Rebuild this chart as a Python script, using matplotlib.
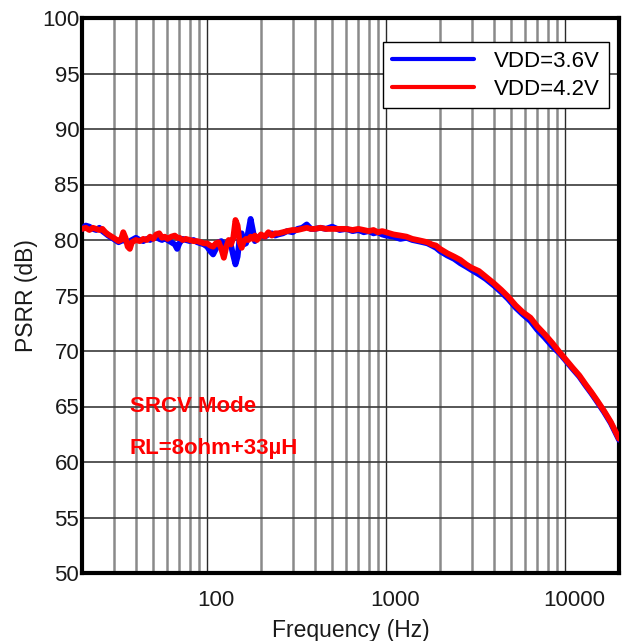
import matplotlib
matplotlib.use("Agg")
import matplotlib.pyplot as plt
from matplotlib.ticker import NullFormatter, LogLocator
import matplotlib.transforms as mtransforms

plt.rcParams['font.family'] = ['Liberation Sans', 'DejaVu Sans']

freq = [20, 21, 22, 23, 24, 25, 26, 27, 28, 30, 32, 33, 34, 35, 36, 37, 38, 40, 42, 44,
        46, 48, 50, 52, 54, 56, 58, 60, 63, 66, 68, 70, 73, 76, 80, 84, 88, 92, 96, 100,
        104, 108, 112, 116, 120, 124, 128, 132, 136, 140, 144, 148, 152, 156, 160, 165, 170, 175, 180, 185,
        190, 200, 210, 220, 230, 240, 250, 265, 280, 300, 320, 340, 360, 380, 400, 430, 460, 500, 550, 600,
        650, 700, 750, 800, 850, 900, 950, 1000, 1100, 1200, 1300, 1400, 1500, 1600, 1700, 1800, 1900, 2000, 2200, 2400,
        2600, 2800, 3000, 3300, 3600, 4000, 4400, 4800, 5300, 5800, 6400, 7000, 7700, 8500, 9300, 10000, 11000, 12000, 13000, 14000,
        15000, 16500, 18000, 20000]

psrr_36 = [81.0, 81.3, 81.2, 81.0, 80.9, 81.1, 80.8, 80.6, 80.4, 80.1, 79.8, 79.9, 80.0, 79.9, 79.8, 79.9, 80.0, 80.2, 80.0, 79.9,
           80.1, 80.0, 80.2, 80.3, 80.1, 80.0, 80.2, 80.0, 79.8, 79.6, 79.2, 79.7, 80.1, 80.0, 79.9, 80.0, 79.8, 79.7, 79.6, 79.4,
           79.0, 78.7, 79.2, 79.8, 79.9, 79.5, 79.7, 79.9, 79.5, 78.6, 77.8, 78.5, 80.2, 80.6, 79.6, 79.7, 80.8, 81.9, 80.9, 79.9,
           80.2, 80.4, 80.3, 80.5, 80.6, 80.4, 80.5, 80.6, 80.8, 80.7, 81.0, 81.1, 81.4, 81.0, 81.0, 81.1, 81.0, 81.2, 80.9, 81.0,
           80.8, 80.9, 80.7, 80.8, 80.6, 80.7, 80.5, 80.4, 80.3, 80.1, 80.2, 80.0, 79.9, 79.8, 79.7, 79.5, 79.3, 79.0, 78.6, 78.3,
           77.9, 77.6, 77.3, 76.9, 76.5, 75.9, 75.3, 74.7, 73.9, 73.3, 72.7, 71.9, 71.2, 70.4, 69.8, 69.2, 68.4, 67.7, 66.9, 66.2,
           65.5, 64.5, 63.5, 62.0]

psrr_42 = [81.0, 81.1, 80.9, 81.1, 81.0, 80.9, 81.0, 80.7, 80.5, 80.2, 79.9, 80.0, 80.7, 80.2, 79.4, 79.2, 79.8, 80.0, 79.9, 80.1,
           80.0, 80.3, 80.1, 80.5, 80.6, 80.2, 80.3, 80.1, 80.3, 80.4, 80.2, 80.2, 80.0, 80.1, 80.0, 79.9, 79.9, 79.8, 79.7, 79.7,
           79.5, 79.4, 79.7, 79.8, 79.2, 78.4, 79.4, 80.0, 79.6, 80.2, 81.8, 81.3, 79.8, 79.3, 79.9, 80.1, 80.0, 80.3, 80.1, 80.4,
           80.0, 80.5, 80.3, 80.7, 80.4, 80.6, 80.6, 80.7, 80.8, 80.9, 80.9, 81.0, 81.1, 81.0, 81.0, 81.1, 81.0, 81.0, 81.0, 81.0,
           80.9, 81.0, 80.9, 80.8, 80.9, 80.7, 80.8, 80.7, 80.5, 80.4, 80.3, 80.1, 80.0, 79.9, 79.8, 79.6, 79.5, 79.2, 78.8, 78.5,
           78.2, 77.8, 77.5, 77.2, 76.7, 76.1, 75.5, 74.9, 74.1, 73.5, 73.0, 72.2, 71.5, 70.7, 69.9, 69.3, 68.5, 67.8, 67.0, 66.3,
           65.6, 64.6, 63.6, 62.1]

series_labels = ['VDD=3.6V', 'VDD=4.2V']
y_ticks = [50, 55, 60, 65, 70, 75, 80, 85, 90, 95, 100]
x_major = [100, 1000, 10000]
x_major_labels = ['100', '1000', '10000']

fig = plt.figure(figsize=(6.24, 6.41), dpi=100)
ax = fig.add_axes([82/624, 1 - 573/641, (619-82)/624, (573-18)/641])

ax.plot(freq, psrr_36, color='#0000ff', lw=4.2, label=series_labels[0], solid_capstyle='round', zorder=3)
ax.plot(freq, psrr_42, color='#ff0000', lw=4.2, label=series_labels[1], solid_capstyle='round', zorder=4)

ax.set_xscale('log')
ax.set_xlim(20, 20000)
ax.set_ylim(50, 100)
ax.set_yticks(y_ticks)
ax.set_xticks(x_major)
ax.set_xticklabels(x_major_labels)
ax.xaxis.set_minor_locator(LogLocator(base=10, subs=range(2, 10), numticks=20))
ax.xaxis.set_minor_formatter(NullFormatter())

ax.grid(True, which='major', axis='y', color='#3a3a3a', lw=1.2)
ax.grid(True, which='major', axis='x', color='#2a2a2a', lw=1.0)
ax.grid(True, which='minor', axis='x', color='#8a8a8a', lw=1.8)
ax.set_axisbelow(True)

ax.tick_params(axis='both', which='both', length=0, labelsize=16, colors='#1a1a1a')
ax.tick_params(axis='y', pad=2)
ax.tick_params(axis='x', pad=12)
offset = mtransforms.ScaledTranslation(9/100, 0, fig.dpi_scale_trans)
for lab in ax.get_xticklabels():
    lab.set_transform(lab.get_transform() + offset)

for s in ax.spines.values():
    s.set_linewidth(3)
    s.set_color('black')

ax.set_xlabel('Frequency (Hz)', fontsize=16.5, color='#1a1a1a', labelpad=6)
ax.set_ylabel('PSRR (dB)', fontsize=16.5, color='#1a1a1a', labelpad=3)

ax.text(37, 64.5, 'SRCV Mode', color='#ff0000', fontsize=16, fontweight='bold', va='baseline', ha='left')
ax.text(37, 60.7, 'RL=8ohm+33\u00b5H', color='#ff0000', fontsize=16, fontweight='bold', va='baseline', ha='left')

leg = ax.legend(loc='upper right', bbox_to_anchor=(609/624, 1 - 42/641), bbox_transform=fig.transFigure,
                borderaxespad=0, fontsize=16, handlelength=3.7, handletextpad=0.9, borderpad=0.4,
                labelspacing=0.3, fancybox=False, framealpha=1, edgecolor='black')
leg.get_frame().set_linewidth(1.0)
for line in leg.get_lines():
    line.set_linewidth(3.0)

fig.savefig('out.png', dpi=100)
